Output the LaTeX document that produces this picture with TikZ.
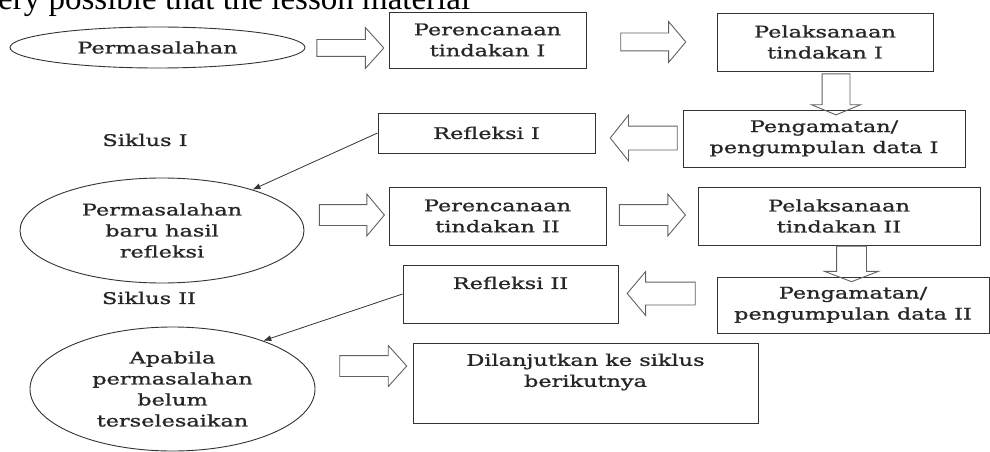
\documentclass[tikz,border=0pt]{standalone}
\usepackage{fontspec}
\setmainfont{Liberation Serif}
\newfontfamily\diagfont[FakeStretch=1.4,FakeBold=1.2]{DejaVu Serif}
\usetikzlibrary{shapes.geometric,shapes.arrows,arrows.meta}
\definecolor{linecol}{gray}{0.2}
\definecolor{txtcol}{gray}{0.15}
\definecolor{arrcol}{gray}{0.38}
\begin{document}
\begin{tikzpicture}[x=1pt,y=-1pt,
 every node/.style={inner sep=0pt, text=txtcol},
 diagtext/.style={font=\diagfont\fontsize{16}{21}\selectfont, align=center},
 box/.style={diagtext, draw=linecol, line width=0.9pt, rectangle},
 oval/.style={diagtext, draw=linecol, line width=0.9pt, ellipse},
 barrow/.style={draw=arrcol, line width=0.9pt, single arrow, single arrow head indent=0pt, inner xsep=0pt},
 link/.style={draw=linecol, line width=0.8pt, -{Latex[length=8pt,width=6pt]}},
]
\useasboundingbox (0,0) rectangle (990,452);
\clip (0,0) rectangle (990,452);

\node[anchor=base west, font=\fontsize{33}{33}\selectfont, text=black] (pagetext) at (-2,10) {ery possible that the lesson material};

\node[oval, minimum width=295, minimum height=41] (e1) at (157.5,47.5) {Permasalahan};
\node[box, minimum width=197, minimum height=56] (p1) at (487.5,40) {Perencanaan\\tindakan I};
\node[box, minimum width=216, minimum height=58] (l1) at (825,42) {Pelaksanaan\\tindakan I};
\node[box, minimum width=282, minimum height=57] (g1) at (824,138.5) {Pengamatan/\\pengumpulan data I};
\node[box, minimum width=217, minimum height=40] (r1) at (486.5,133) {Refleksi I};
\node[diagtext] (s1) at (145,140) {Siklus I};
\node[oval, minimum width=284, minimum height=105] (e2) at (162,230.5) {Permasalahan\\baru hasil\\refleksi};
\node[box, minimum width=217, minimum height=58] (p2) at (497.5,216) {Perencanaan\\tindakan II};
\node[box, minimum width=282, minimum height=58] (l2) at (839,216) {Pelaksanaan\\tindakan II};
\node[box, minimum width=272, minimum height=56] (g2) at (853,305) {Pengamatan/\\pengumpulan data II};
\node[box, minimum width=215, minimum height=58] (r2) at (510.5,294) {};
\node[diagtext] (r2t) at (510.5,283) {Refleksi II};
\node[diagtext] (s2) at (149,298) {Siklus II};
\node[oval, minimum width=285, minimum height=124] (e3) at (172.5,389) {Apabila\\permasalahan\\belum\\terselesaikan};
\node[box, minimum width=345, minimum height=80] (c) at (585.5,383) {};
\node[diagtext] (ct) at (585.5,372) {Dilanjutkan ke siklus\\berikutnya};

% block arrows
\node[barrow, inner ysep=8, minimum height=67, minimum width=40, single arrow head extend=12, single arrow tip angle=96] (a1) at (346.5,48) {};
\node[barrow, inner ysep=8.5, minimum height=65, minimum width=40, single arrow head extend=11.5, single arrow tip angle=100] (a2) at (649.5,42) {};
\node[barrow, inner sep=13.5, minimum height=41, minimum width=48, single arrow head extend=10.5, single arrow tip angle=135, shape border rotate=270] (d1) at (836,91.5) {};
\node[barrow, inner ysep=11.5, minimum height=67, minimum width=45, single arrow head extend=11, single arrow tip angle=103, shape border rotate=180] (b1) at (648.5,138) {};
\node[barrow, inner ysep=10, minimum height=65, minimum width=41, single arrow head extend=10.5, single arrow tip angle=100] (a3) at (347.5,215) {};
\node[barrow, inner ysep=10, minimum height=66, minimum width=41, single arrow head extend=10.5, single arrow tip angle=100] (a4) at (648,215) {};
\node[barrow, inner sep=14.5, minimum height=32, minimum width=53, single arrow head extend=12, single arrow tip angle=138, shape border rotate=270] (d2) at (851.5,261) {};
\node[barrow, inner ysep=11, minimum height=68, minimum width=43, single arrow head extend=10.5, single arrow tip angle=100, shape border rotate=180] (b2) at (666,293.5) {};
\node[barrow, inner ysep=10, minimum height=67, minimum width=40, single arrow head extend=10, single arrow tip angle=96] (a5) at (368.5,366) {};

% thin connectors
\draw[link] (r1.west) -- (e2);
\draw[link] (r2.west) -- (e3.28);
\end{tikzpicture}
\end{document}
